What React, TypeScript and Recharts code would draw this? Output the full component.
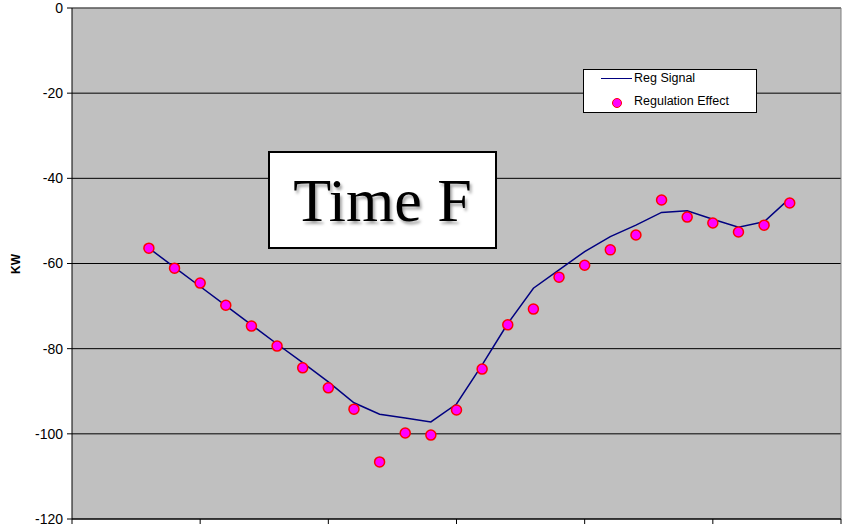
import { ComposedChart, Line, XAxis, YAxis, CartesianGrid, Legend, ReferenceLine } from 'recharts'

const POSICIONES = [3, 4, 5, 6, 7, 8, 9, 10, 11, 12, 13, 14, 15, 16, 17, 18, 19, 20, 21, 22, 23, 24, 25, 26, 27, 28]

const REG_SIGNAL = [
  -56.4, -60.9, -65.4, -69.9, -74.4, -78.9, -83.3, -87.8, -92.7, -95.4, -96.3, -97.2, -93.0,
  -83.8, -74.1, -65.8, -61.5, -57.2, -53.7, -51.0, -48.0, -47.6, -49.6, -51.5, -50.2, -44.7,
]

const REG_EFFECT = [
  -56.4, -61.1, -64.6, -69.8, -74.7, -79.4, -84.5, -89.2, -94.2, -106.6, -99.8, -100.3, -94.4,
  -84.8, -74.4, -70.7, -63.2, -60.4, -56.8, -53.3, -45.1, -49.1, -50.5, -52.6, -51.0, -45.8,
]

const X_TICKS = [0, 5, 10, 15, 20, 25, 30]
const Y_TICKS = [-120, -100, -80, -60, -40, -20, 0]

const data = POSICIONES.map((x, i) => ({ x, reg: REG_SIGNAL[i], eff: REG_EFFECT[i] }))

const ARIAL = 'Arial, "Liberation Sans", sans-serif'

/** leyenda tipo Excel, caja blanca con borde negro */
function Leyenda() {
  return (
    <div
      style={{
        position: 'absolute',
        left: 583,
        top: 69,
        width: 174,
        height: 44,
        boxSizing: 'border-box',
        background: '#fff',
        border: '1px solid #000',
        fontFamily: ARIAL,
        fontSize: 12.5,
        color: '#000',
      }}
    >
      <div style={{ position: 'absolute', left: 17, top: 8, width: 31, height: 0, borderTop: '1.5px solid #000080' }} />
      <div style={{ position: 'absolute', left: 50, top: 1, lineHeight: '15px' }}>Reg Signal</div>
      <div
        style={{
          position: 'absolute',
          left: 28,
          top: 28,
          width: 8,
          height: 8,
          borderRadius: '50%',
          background: '#FF00FF',
          border: '1.5px solid #FF0000',
        }}
      />
      <div style={{ position: 'absolute', left: 50, top: 24, lineHeight: '15px' }}>Regulation Effect</div>
    </div>
  )
}

export default function App() {
  return (
    <div style={{ position: 'absolute', left: 0, top: 0, width: 853, height: 526, background: '#fff' }}>
      <ComposedChart width={853} height={526} data={data} margin={{ top: 8, right: 12, bottom: 0, left: 0 }}>
        <CartesianGrid horizontal vertical={false} stroke="#000" fill="#C0C0C0" fillOpacity={1} />
        <XAxis
          type="number"
          dataKey="x"
          domain={[0, 30]}
          ticks={X_TICKS}
          tick={() => <g />}
          height={7}
          tickSize={5}
          interval={0}
          axisLine={{ stroke: '#000' }}
          tickLine={{ stroke: '#000' }}
        />
        <YAxis
          type="number"
          domain={[-120, 0]}
          ticks={Y_TICKS}
          width={72}
          tickSize={5}
          tickMargin={4}
          interval={0}
          axisLine={{ stroke: '#000' }}
          tickLine={{ stroke: '#000' }}
          tick={{ fill: '#000', fontSize: 14, fontFamily: ARIAL }}
          label={{
            content: () => (
              <text
                x={16}
                y={264}
                transform="rotate(-90 16 264)"
                textAnchor="middle"
                dominantBaseline="central"
                fontFamily={ARIAL}
                fontWeight="bold"
                fontSize={12}
                fill="#000"
              >
                KW
              </text>
            ),
          }}
        />
        <ReferenceLine y={0} stroke="#808080" />
        <ReferenceLine x={30} stroke="#808080" />
        <Legend content={() => null} />
        <Line
          type="linear"
          dataKey="reg"
          name="Reg Signal"
          stroke="#000080"
          strokeWidth={1.5}
          dot={false}
          isAnimationActive={false}
        />
        <Line
          type="linear"
          dataKey="eff"
          name="Regulation Effect"
          stroke="none"
          dot={{ r: 5, fill: '#FF00FF', stroke: '#FF0000', strokeWidth: 1.5 }}
          activeDot={false}
          isAnimationActive={false}
        />
      </ComposedChart>
      <Leyenda />
      <div
        style={{
          position: 'absolute',
          left: 268,
          top: 151,
          width: 229,
          height: 98,
          boxSizing: 'border-box',
          background: '#fff',
          border: '2px solid #000',
          display: 'flex',
          alignItems: 'center',
          justifyContent: 'center',
          fontFamily: '"Liberation Serif", "Times New Roman", serif',
          fontSize: 62,
          color: '#000',
          textShadow: '2px 3px 3px rgba(0,0,0,0.35)',
        }}
      >
        Time F
      </div>
    </div>
  )
}
